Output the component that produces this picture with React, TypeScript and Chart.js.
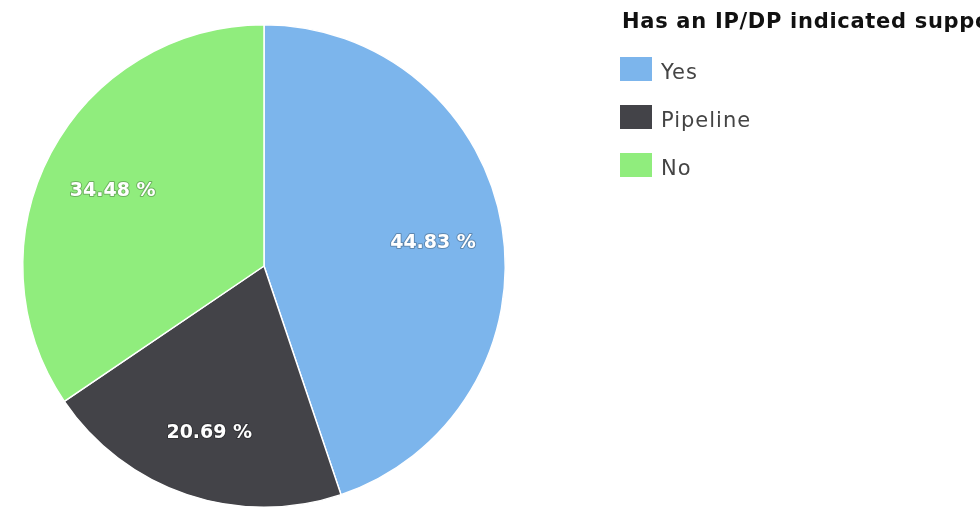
import React, { useEffect, useRef } from "react";
import { Chart, registerables } from "chart.js";

Chart.register(...registerables);

const categories = ["Yes", "Pipeline", "No"];
const values = [44.83, 20.69, 34.48];
const colors = ["#7cb5ec", "#434348", "#90ed7d"];
const legendTitle = "Has an IP/DP indicated support";

const FONT = '"DejaVu Sans", Verdana, sans-serif';

const labelPlugin = {
  id: "sliceLabels",
  afterDatasetsDraw(chart: any) {
    const ctx = chart.ctx;
    const meta = chart.getDatasetMeta(0);
    ctx.save();
    ctx.font = `bold 19px ${FONT}`;
    ctx.textAlign = "center";
    ctx.textBaseline = "middle";
    meta.data.forEach((arc: any, i: number) => {
      const p = arc.getProps(["x", "y", "startAngle", "endAngle", "outerRadius"], true);
      const mid = (p.startAngle + p.endAngle) / 2;
      const r = p.outerRadius * 0.71;
      const x = p.x + Math.cos(mid) * r;
      const y = p.y + Math.sin(mid) * r + 5;
      const text = values[i].toFixed(2) + " %";
      ctx.lineWidth = 2;
      ctx.strokeStyle = "rgba(0,0,0,0.25)";
      ctx.lineJoin = "round";
      ctx.strokeText(text, x, y);
      ctx.fillStyle = "#ffffff";
      ctx.fillText(text, x, y);
    });
    ctx.restore();
  },
};

export default function App() {
  const ref = useRef<HTMLCanvasElement>(null);
  useEffect(() => {
    document.body.style.margin = "0";
    if (!ref.current) return;
    const chart = new Chart(ref.current, {
      type: "pie",
      data: {
        labels: categories,
        datasets: [
          {
            data: values,
            backgroundColor: colors,
            borderColor: "#ffffff",
            borderWidth: 1.5,
          },
        ],
      },
      options: {
        responsive: false,
        animation: false,
        layout: { padding: { left: 22, top: 24, right: 474, bottom: 12 } },
        plugins: {
          legend: { display: false },
          tooltip: { enabled: false },
        },
      },
      plugins: [labelPlugin],
    });
    return () => chart.destroy();
  }, []);

  return (
    <div
      style={{
        position: "relative",
        width: 980,
        height: 507,
        overflow: "hidden",
        background: "#fff",
        fontFamily: FONT,
      }}
    >
      <canvas
        ref={ref}
        width={980}
        height={520}
        style={{ position: "absolute", left: 0, top: 0, width: 980, height: 520 }}
      />
      <div
        style={{
          position: "absolute",
          left: 622,
          top: 9,
          fontSize: 21,
          lineHeight: "24px",
          fontWeight: "bold",
          color: "#111",
          letterSpacing: 0.7,
          whiteSpace: "nowrap",
        }}
      >
        {legendTitle}
      </div>
      {categories.map((c, i) => (
        <div key={c}>
          <div
            style={{
              position: "absolute",
              left: 620,
              top: 57 + i * 48,
              width: 32,
              height: 24,
              background: colors[i],
            }}
          />
          <div
            style={{
              position: "absolute",
              left: 661,
              top: 60 + i * 48,
              fontSize: 21,
              lineHeight: "24px",
              color: "#444",
              letterSpacing: 1,
              whiteSpace: "nowrap",
            }}
          >
            {c}
          </div>
        </div>
      ))}
    </div>
  );
}
